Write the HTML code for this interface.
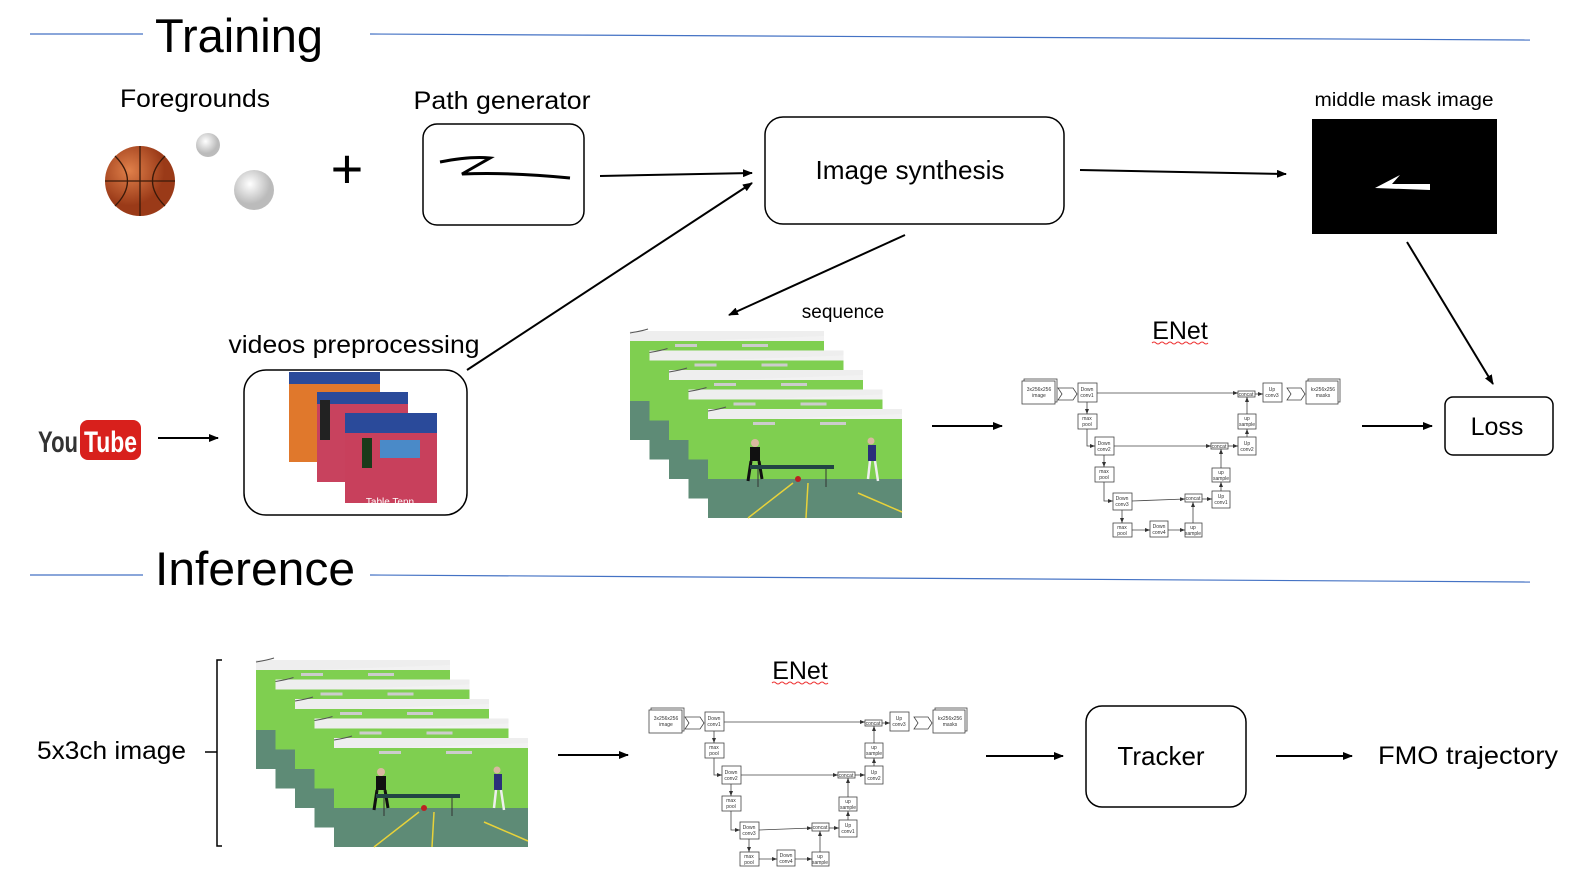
<!DOCTYPE html>
<html><head><meta charset="utf-8"><style>
html,body{margin:0;padding:0;background:#fff;}
svg{display:block;font-family:"Liberation Sans",sans-serif;}
</style></head><body>
<svg width="1571" height="880" viewBox="0 0 1571 880" xmlns="http://www.w3.org/2000/svg">
<defs>
<marker id="ah" markerWidth="10" markerHeight="8" refX="9" refY="4" orient="auto" markerUnits="userSpaceOnUse">
<path d="M0,0 L10,4 L0,8 z" fill="#000"/></marker>
<marker id="sa" markerWidth="5" markerHeight="4" refX="5" refY="2" orient="auto" markerUnits="userSpaceOnUse">
<path d="M0,0 L5,2 L0,4 z" fill="#333"/></marker>
<g id="frame">
<rect x="0" y="0" width="194" height="109" fill="#7fcf50"/>
<rect x="0" y="0" width="194" height="10" fill="#f2f2f2"/>
<path d="M60,10 L194,5 L194,0 L0,0 L0,10 Z" fill="#eee"/>
<rect x="45" y="13" width="22" height="3" fill="#ccc"/>
<rect x="112" y="13" width="26" height="3" fill="#ccc"/>
<path d="M0,2 Q12,0 18,-2" stroke="#555" fill="none"/>
<rect x="0" y="70" width="194" height="39" fill="#5e8b76"/>
<path d="M40,109 L85,74 M98,109 L100,74 M150,84 L194,103" stroke="#e8d23a" stroke-width="1.5"/>
</g>
<g id="front">
<use href="#frame"/>
<rect x="42" y="38" width="10" height="14" fill="#111"/><circle cx="47" cy="34" r="4" fill="#d9b8a0"/>
<path d="M43,52 L40,72 M51,52 L54,70" stroke="#111" stroke-width="3"/>
<rect x="42" y="56" width="84" height="4" fill="#244"/>
<path d="M50,60 L50,78 M118,60 L118,78" stroke="#333"/>
<circle cx="90" cy="70" r="3" fill="#b22"/>
<rect x="160" y="36" width="8" height="16" fill="#2b2f7a"/><circle cx="163" cy="32" r="3.5" fill="#d9b8a0"/>
<path d="M162,52 L160,70 M167,52 L170,72" stroke="#eee" stroke-width="2.5"/>
</g>
<g id="stack">
<use href="#frame" x="0" y="0"/>
<use href="#frame" x="19.5" y="19.5"/>
<use href="#frame" x="39" y="39"/>
<use href="#frame" x="58.5" y="58.5"/>
<use href="#front" x="78" y="78"/>
</g>
<g id="enet" font-size="5" text-anchor="middle" fill="none" stroke="#444" stroke-width="0.8">
<rect x="9" y="9" width="33" height="23" fill="#fff"/><rect x="7" y="11" width="33" height="23" fill="#fff"/>
<path d="M43,18 L58,18 L62,24 L58,30 L43,30 L47,24 Z"/>
<rect x="63" y="13" width="19" height="19" fill="#fff"/>
<rect x="223" y="21" width="17" height="6" fill="#fff"/>
<rect x="248" y="13" width="19" height="19" fill="#fff"/>
<path d="M272,18 L286,18 L290,24 L286,30 L272,30 L276,24 Z"/>
<rect x="293" y="9" width="32" height="23" fill="#fff"/><rect x="291" y="11" width="32" height="23" fill="#fff"/>
<rect x="63" y="44" width="19" height="15" fill="#fff"/>
<rect x="80" y="67" width="19" height="18" fill="#fff"/>
<rect x="196" y="73" width="17" height="6" fill="#fff"/>
<rect x="223" y="67" width="18" height="18" fill="#fff"/>
<rect x="223" y="44" width="18" height="15" fill="#fff"/>
<rect x="80" y="97" width="19" height="15" fill="#fff"/>
<rect x="98" y="123" width="19" height="17" fill="#fff"/>
<rect x="170" y="124" width="17" height="8" fill="#fff"/>
<rect x="197" y="121" width="18" height="17" fill="#fff"/>
<rect x="197" y="98" width="18" height="14" fill="#fff"/>
<rect x="98" y="153" width="19" height="14" fill="#fff"/>
<rect x="135" y="151" width="18" height="16" fill="#fff"/>
<rect x="170" y="153" width="17" height="14" fill="#fff"/>
<g marker-end="url(#sa)">
<path d="M82,23 L223,23"/><path d="M240,24 L248,24"/><path d="M72,32 L72,44"/>
<path d="M72,59 L72,76 L80,76"/><path d="M99,76 L196,76"/><path d="M213,76 L223,76"/>
<path d="M232,67 L232,59"/><path d="M232,44 L232,27"/>
<path d="M89,85 L89,97"/><path d="M89,112 L89,131 L98,131"/>
<path d="M117,131 L170,129"/><path d="M187,129 L197,129"/><path d="M206,121 L206,112"/><path d="M206,98 L206,79"/>
<path d="M107,140 L107,153"/><path d="M117,160 L135,160"/><path d="M153,160 L170,160"/><path d="M178,153 L178,132"/>
</g>
<g fill="#333" stroke="none">
<text x="24" y="21">3x256x256</text><text x="24" y="27">image</text>
<text x="72" y="21">Down</text><text x="72" y="27">conv1</text>
<text x="231" y="26">concat</text>
<text x="257" y="21">Up</text><text x="257" y="27">conv3</text>
<text x="308" y="21">kx256x256</text><text x="308" y="27">masks</text>
<text x="72" y="50">max</text><text x="72" y="56">pool</text>
<text x="89" y="75">Down</text><text x="89" y="81">conv2</text>
<text x="204" y="78">concat</text>
<text x="232" y="75">Up</text><text x="232" y="81">conv2</text>
<text x="232" y="50">up</text><text x="232" y="56">sample</text>
<text x="89" y="103">max</text><text x="89" y="109">pool</text>
<text x="107" y="130">Down</text><text x="107" y="136">conv3</text>
<text x="178" y="130">concat</text>
<text x="206" y="128">Up</text><text x="206" y="134">conv1</text>
<text x="206" y="104">up</text><text x="206" y="110">sample</text>
<text x="107" y="159">max</text><text x="107" y="165">pool</text>
<text x="144" y="158">Down</text><text x="144" y="164">conv4</text>
<text x="178" y="159">up</text><text x="178" y="165">sample</text>
</g>
</g>
</defs>

<!-- headers -->
<path d="M30,34 L143,34" stroke="#4472c4" stroke-width="1.2"/>
<path d="M370,34 L1530,40" stroke="#4472c4" stroke-width="1.2"/>
<text x="155" y="52" font-size="47" textLength="168" lengthAdjust="spacingAndGlyphs">Training</text>
<path d="M30,575 L143,575" stroke="#4472c4" stroke-width="1.2"/>
<path d="M370,575 L1530,582" stroke="#4472c4" stroke-width="1.2"/>
<text x="155" y="585" font-size="47" textLength="200" lengthAdjust="spacingAndGlyphs">Inference</text>

<!-- foregrounds -->
<text x="195" y="107" font-size="25" text-anchor="middle" textLength="150" lengthAdjust="spacingAndGlyphs">Foregrounds</text>
<defs><radialGradient id="bb" cx="0.35" cy="0.35"><stop offset="0" stop-color="#e0804a"/><stop offset="1" stop-color="#9a3a18"/></radialGradient>
<radialGradient id="wb" cx="0.4" cy="0.35"><stop offset="0" stop-color="#fff"/><stop offset="1" stop-color="#bbb"/></radialGradient></defs>
<circle cx="140" cy="181" r="35" fill="url(#bb)"/>
<path d="M105,181 L175,181 M140,146 L140,216 M115,156 Q140,181 115,206 M165,156 Q140,181 165,206" stroke="#3a1a0a" stroke-width="1.3" fill="none"/>
<circle cx="208" cy="145" r="12" fill="url(#wb)"/>
<circle cx="254" cy="190" r="20" fill="url(#wb)"/>
<text x="347" y="188" font-size="56" text-anchor="middle">+</text>

<!-- path generator -->
<text x="502" y="109" font-size="25" text-anchor="middle" textLength="177" lengthAdjust="spacingAndGlyphs">Path generator</text>
<rect x="423" y="124" width="161" height="101" rx="14" fill="#fff" stroke="#000" stroke-width="1.5"/>
<path d="M440,162 Q470,156 490,158 L462,174 Q510,172 570,178" stroke="#000" stroke-width="3" fill="none"/>
<path d="M600,176 L752,173" stroke="#000" stroke-width="2" marker-end="url(#ah)"/>

<rect x="765" y="117" width="299" height="107" rx="18" fill="#fff" stroke="#000" stroke-width="1.5"/>
<text x="910" y="179" font-size="26" text-anchor="middle" textLength="189" lengthAdjust="spacingAndGlyphs">Image synthesis</text>
<path d="M1080,170 L1286,174" stroke="#000" stroke-width="2" marker-end="url(#ah)"/>

<text x="1404" y="106" font-size="19" text-anchor="middle" textLength="179" lengthAdjust="spacingAndGlyphs">middle mask image</text>
<rect x="1312" y="119" width="185" height="115" fill="#000"/>
<path d="M1375,188 L1400,175 L1392,184 L1430,184 L1430,190 Z" fill="#fff"/>
<path d="M1407,242 L1493,384" stroke="#000" stroke-width="2" marker-end="url(#ah)"/>
<rect x="1445" y="397" width="108" height="58" rx="8" fill="#fff" stroke="#000" stroke-width="1.5"/>
<text x="1497" y="435" font-size="25" text-anchor="middle">Loss</text>
<path d="M1362,426 L1432,426" stroke="#000" stroke-width="2" marker-end="url(#ah)"/>

<text x="1180" y="339" font-size="25" text-anchor="middle">ENet</text>
<path d="M1152,343 q2,-2 4,0 t4,0 t4,0 t4,0 t4,0 t4,0 t4,0 t4,0 t4,0 t4,0 t4,0 t4,0 t4,0 t4,0" stroke="#e33" fill="none"/>
<use href="#enet" x="1015" y="370"/>
<path d="M932,426 L1002,426" stroke="#000" stroke-width="2" marker-end="url(#ah)"/>

<text x="843" y="318" font-size="19" text-anchor="middle">sequence</text>
<path d="M905,235 L729,315" stroke="#000" stroke-width="2" marker-end="url(#ah)"/>
<use href="#stack" x="630" y="331"/>

<path d="M467,370 L752,183" stroke="#000" stroke-width="2" marker-end="url(#ah)"/>
<text x="354" y="353" font-size="25" text-anchor="middle" textLength="251" lengthAdjust="spacingAndGlyphs">videos preprocessing</text>
<rect x="244" y="370" width="223" height="145" rx="22" fill="#fff" stroke="#000" stroke-width="1.5"/>
<rect x="289" y="372" width="91" height="90" fill="#e0782c"/><rect x="289" y="372" width="91" height="12" fill="#2a4a9a"/>
<rect x="317" y="392" width="91" height="90" fill="#c8425e"/><rect x="317" y="392" width="91" height="12" fill="#2a4a9a"/>
<rect x="320" y="400" width="10" height="40" fill="#222"/>
<rect x="345" y="413" width="92" height="90" fill="#c8405c"/><rect x="345" y="413" width="92" height="20" fill="#2a4a9a"/>
<rect x="380" y="440" width="40" height="18" fill="#4a8ac8"/><rect x="362" y="438" width="10" height="30" fill="#1a3a1a"/>
<text x="390" y="505" font-size="10" fill="#fff" text-anchor="middle">Table Tenn</text>

<text x="38" y="452" font-size="30" font-weight="bold" fill="#333" textLength="40" lengthAdjust="spacingAndGlyphs">You</text>
<rect x="80" y="420" width="61" height="40" rx="8" fill="#d8201c"/>
<text x="84" y="452" font-size="30" font-weight="bold" fill="#fff" textLength="53" lengthAdjust="spacingAndGlyphs">Tube</text>
<path d="M158,438 L218,438" stroke="#000" stroke-width="2" marker-end="url(#ah)"/>

<!-- inference -->
<text x="37" y="759" font-size="25" textLength="149" lengthAdjust="spacingAndGlyphs">5x3ch image</text>
<path d="M222,660 L217,660 L217,846 L222,846 M217,752 L205,752" stroke="#000" stroke-width="1.5" fill="none"/>
<use href="#stack" x="256" y="660"/>
<path d="M558,755 L628,755" stroke="#000" stroke-width="2" marker-end="url(#ah)"/>
<text x="800" y="679" font-size="25" text-anchor="middle">ENet</text>
<path d="M772,683 q2,-2 4,0 t4,0 t4,0 t4,0 t4,0 t4,0 t4,0 t4,0 t4,0 t4,0 t4,0 t4,0 t4,0 t4,0" stroke="#e33" fill="none"/>
<use href="#enet" x="642" y="699"/>
<path d="M986,756 L1063,756" stroke="#000" stroke-width="2" marker-end="url(#ah)"/>
<rect x="1086" y="706" width="160" height="101" rx="16" fill="#fff" stroke="#000" stroke-width="1.5"/>
<text x="1161" y="765" font-size="26" text-anchor="middle">Tracker</text>
<path d="M1276,756 L1352,756" stroke="#000" stroke-width="2" marker-end="url(#ah)"/>
<text x="1378" y="764" font-size="25" textLength="180" lengthAdjust="spacingAndGlyphs">FMO trajectory</text>
</svg>
</body></html>
